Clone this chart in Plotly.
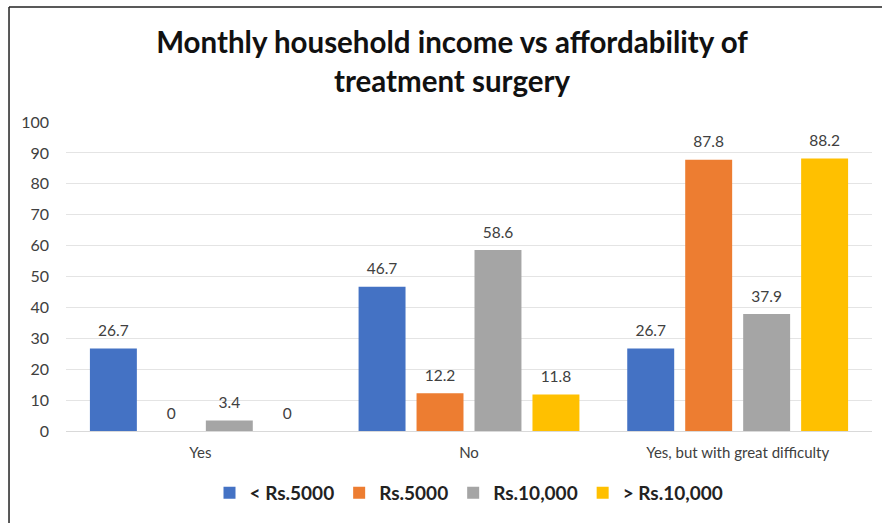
import plotly.graph_objects as go

# Affordability responses by monthly household income (percent)
categories = ["Yes", "No", "Yes, but with great difficulty"]
income_groups = ["< Rs.5000", "Rs.5000", "Rs.10,000", "> Rs.10,000"]
below_5000 = [26.7, 46.7, 26.7]
at_5000 = [0, 12.2, 87.8]
at_10000 = [3.4, 58.6, 37.9]
above_10000 = [0, 11.8, 88.2]
y_ticks = [0, 10, 20, 30, 40, 50, 60, 70, 80, 90, 100]

series = [below_5000, at_5000, at_10000, above_10000]
colors = ["#4472C4", "#ED7D31", "#A5A5A5", "#FFC000"]

FONT = "Lato, 'Open Sans', sans-serif"
GAP = 0.137

fig = go.Figure()
for name, vals, col in zip(income_groups, series, colors):
    fig.add_trace(go.Bar(
        x=categories, y=vals, name=name,
        marker=dict(color=col, line=dict(width=0)),
        offsetgroup=name,
    ))

# value labels, grouped the same way as the bars; the invisible marker
# lifts each label a little above its bar
for name, vals in zip(income_groups, series):
    fig.add_trace(go.Scatter(
        x=categories, y=vals, mode="markers+text",
        text=[f"{v:g}" for v in vals],
        textposition="top center",
        textfont=dict(family=FONT, size=15.5, color="#404040"),
        marker=dict(size=12, color="rgba(0,0,0,0)"),
        offsetgroup=name, showlegend=False, cliponaxis=False,
        hoverinfo="skip",
    ))

fig.update_layout(
    width=882, height=523,
    margin=dict(l=66, r=10, t=122, b=92),
    paper_bgcolor="white", plot_bgcolor="white",
    barmode="group", bargap=GAP, bargroupgap=0.19,
    scattermode="group", scattergap=GAP,
    title=dict(
        text="Monthly household income vs affordability of<br>treatment surgery",
        x=0.5125, xanchor="center", y=0.898, yanchor="middle",
        font=dict(family=FONT, size=29.5, color="#111111", weight="bold"),
    ),
    showlegend=True,
    legend=dict(
        orientation="h", x=0.5, xanchor="center", y=-0.2, yanchor="middle",
        font=dict(family=FONT, size=19, color="#222222", weight="bold"),
        itemwidth=30, traceorder="normal",
    ),
    xaxis=dict(
        showline=True, linecolor="#D9D9D9", linewidth=1,
        tickfont=dict(family=FONT, size=15, color="#404040"),
        ticks="", ticklabelstandoff=8,
    ),
    yaxis=dict(
        range=[0, 100], tickvals=y_ticks,
        showgrid=True, gridcolor="#E4E4E4", gridwidth=1,
        zeroline=False,
        tickfont=dict(family=FONT, size=16, color="#404040"),
        ticklabelstandoff=16,
    ),
    shapes=[
        # frame: left and top edges
        dict(type="line", xref="paper", yref="paper",
             x0=-0.0707, x1=-0.0707, y0=-0.31, y1=1.372,
             line=dict(color="#222222", width=1.5)),
        dict(type="line", xref="paper", yref="paper",
             x0=-0.0707, x1=1.02, y0=1.372, y1=1.372,
             line=dict(color="#222222", width=1.5)),
    ],
)

fig.write_html("out.html")
